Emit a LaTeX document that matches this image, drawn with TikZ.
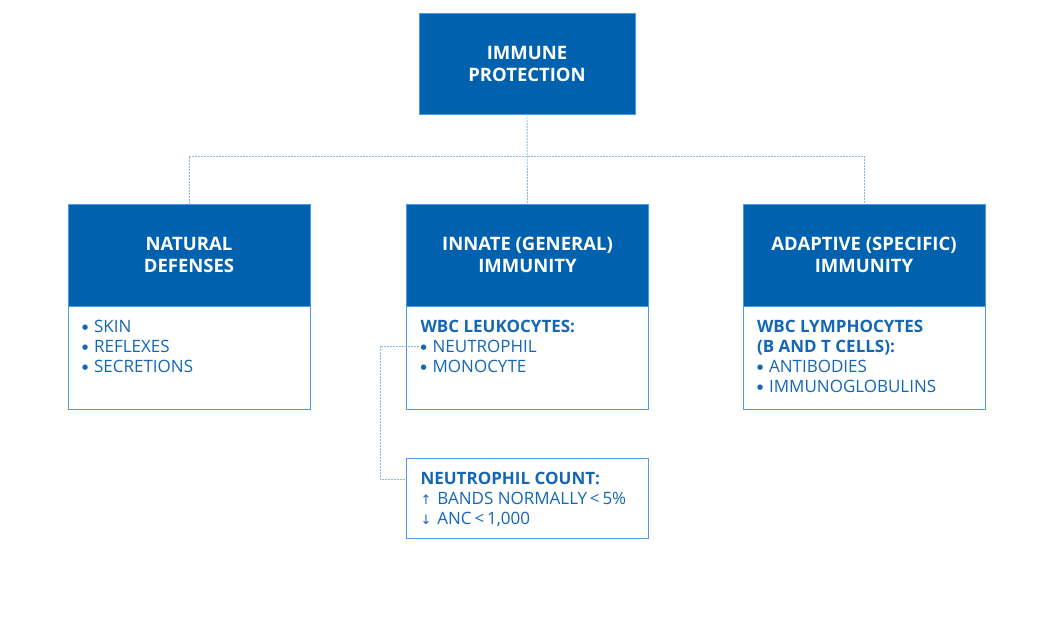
\documentclass[tikz,border=0pt]{standalone}
\usepackage{fontspec}
\setmainfont{Open Sans}
\newfontfamily\arrowfont{DejaVu Sans}
\usetikzlibrary{positioning}

\definecolor{immblue}{HTML}{0062AE}
\definecolor{edgeblue}{HTML}{4C9BE6}
\definecolor{textblue}{HTML}{1467B7}
\definecolor{linkblue}{HTML}{8CB6E6}

\newcommand{\bodytext}[2]{\parbox[c][#1pt][t]{214pt}{\strut#2}}
\newcommand{\dotitem}{\raisebox{3pt}{\arrowfont\fontsize{7}{7}\selectfont ●}\hspace{6pt}}
\newcommand{\arrowitem}[1]{{\arrowfont\fontsize{13}{13}\selectfont #1}\hspace{6pt}}

\begin{document}
\begin{tikzpicture}[x=1pt, y=-1pt,
    headbox/.style = {draw = edgeblue, fill = immblue, text = white,
        font = \bfseries\fontsize{18.5}{22}\selectfont, align = center,
        minimum width = 242pt, minimum height = 102pt, inner sep = 2pt},
    bodybox/.style = {draw = edgeblue, line width = 1pt, fill = white,
        text = textblue, font = \fontsize{17}{20}\selectfont,
        minimum width = 242pt, inner sep = 2pt},
    link/.style = {draw = linkblue, line width = 0.9pt,
        dash pattern = on 2pt off 1pt}]

    \useasboundingbox (0,0) rectangle (1054,630);

    \node[headbox, minimum width = 216pt, minimum height = 101pt] (top) at (527,63.5)
        {IMMUNE\\PROTECTION};

    % three columns
    \node[headbox] (natural) at (189,255) {NATURAL\\DEFENSES};
    \node[headbox] (innate) at (527.5,255) {INNATE (GENERAL)\\IMMUNITY};
    \node[headbox] (adaptive) at (864,255) {ADAPTIVE (SPECIFIC)\\IMMUNITY};

    \node[bodybox, minimum height = 103pt, below = 0pt of natural] (naturalbody)
        {\bodytext{80}{\dotitem SKIN\\\dotitem REFLEXES\\\dotitem SECRETIONS}};
    \node[bodybox, minimum height = 103pt, below = 0pt of innate] (innatebody)
        {\bodytext{80}{\textbf{WBC LEUKOCYTES:}\\\dotitem NEUTROPHIL\\\dotitem MONOCYTE}};
    \node[bodybox, minimum height = 103pt, below = 0pt of adaptive] (adaptivebody)
        {\bodytext{80}{\textbf{WBC LYMPHOCYTES\\(B AND T CELLS):}\\\dotitem ANTIBODIES\\\dotitem IMMUNOGLOBULINS}};

    \node[bodybox, minimum height = 80pt] (count) at (527.5,498)
        {\bodytext{55}{\textbf{NEUTROPHIL COUNT:}\\\arrowitem{↑}BANDS NORMALLY\,<\,5\%\\\arrowitem{↓}ANC\,<\,1,000}};

    \coordinate (bus) at (527.5,156);
    \coordinate (neutro) at (419,346);

    \draw[link] (top.south) -- (innate.north);
    \draw[link] (natural.north) |- (bus) -| (adaptive.north);
    \draw[link] (neutro) -| (380,420) |- ([yshift=19pt]count.west);
\end{tikzpicture}
\end{document}
